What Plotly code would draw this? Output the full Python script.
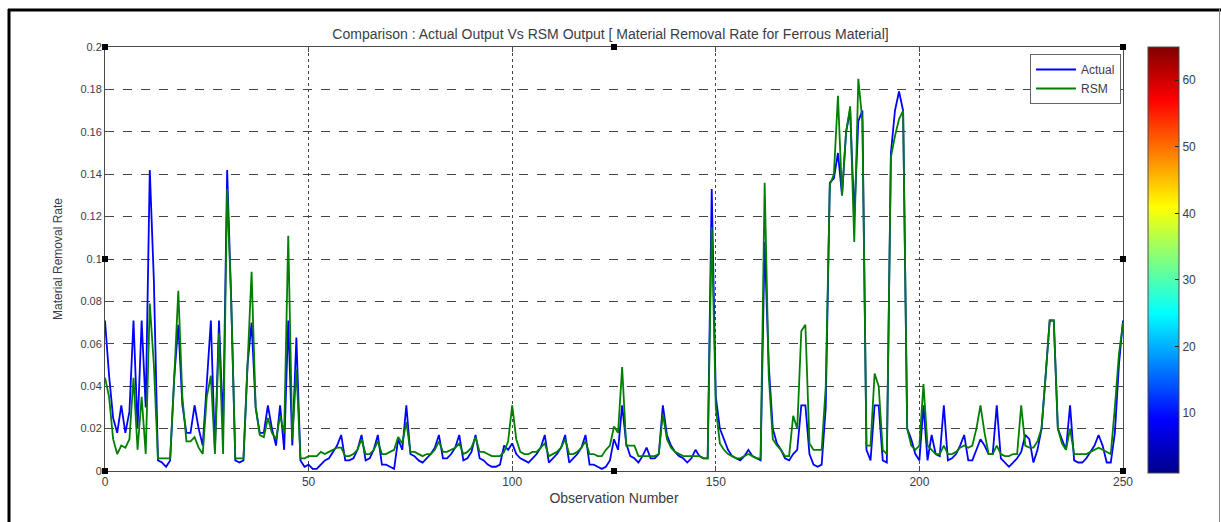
import plotly.graph_objects as go

# ---------------- data ----------------
actual_000_049 = [0.071, 0.045, 0.025, 0.018, 0.031, 0.018, 0.028, 0.071, 0.02, 0.071,
                  0.03, 0.142, 0.09, 0.005, 0.004, 0.002, 0.005, 0.044, 0.069, 0.031,
                  0.018, 0.018, 0.031, 0.02, 0.012, 0.04, 0.071, 0.01, 0.071, 0.02,
                  0.142, 0.08, 0.005, 0.004, 0.005, 0.05, 0.07, 0.03, 0.018, 0.018,
                  0.031, 0.02, 0.012, 0.031, 0.01, 0.071, 0.012, 0.063, 0.005, 0.002]
actual_050_099 = [0.003, 0.001, 0.001, 0.003, 0.005, 0.006, 0.009, 0.012, 0.017, 0.005,
                  0.005, 0.006, 0.01, 0.017, 0.005, 0.006, 0.01, 0.017, 0.003, 0.003,
                  0.002, 0.001, 0.015, 0.01, 0.031, 0.008, 0.007, 0.005, 0.004, 0.006,
                  0.008, 0.011, 0.017, 0.006, 0.006, 0.008, 0.011, 0.017, 0.005, 0.006,
                  0.009, 0.017, 0.006, 0.005, 0.003, 0.002, 0.002, 0.003, 0.012, 0.01]
actual_100_149 = [0.013, 0.008, 0.006, 0.005, 0.004, 0.006, 0.008, 0.011, 0.017, 0.004,
                  0.006, 0.008, 0.011, 0.017, 0.004, 0.006, 0.008, 0.011, 0.017, 0.003,
                  0.003, 0.002, 0.001, 0.002, 0.005, 0.015, 0.01, 0.031, 0.013, 0.007,
                  0.006, 0.004, 0.007, 0.011, 0.006, 0.006, 0.008, 0.031, 0.017, 0.012,
                  0.009, 0.007, 0.006, 0.004, 0.006, 0.01, 0.007, 0.006, 0.006, 0.133]
actual_150_199 = [0.035, 0.02, 0.015, 0.01, 0.007, 0.006, 0.005, 0.007, 0.01, 0.007,
                  0.006, 0.005, 0.108, 0.05, 0.02, 0.013, 0.01, 0.006, 0.005, 0.008,
                  0.01, 0.031, 0.031, 0.008, 0.003, 0.002, 0.003, 0.03, 0.136, 0.138,
                  0.15, 0.13, 0.16, 0.17, 0.12, 0.165, 0.17, 0.01, 0.005, 0.031,
                  0.031, 0.005, 0.004, 0.15, 0.17, 0.179, 0.17, 0.02, 0.015, 0.008]
actual_200_250 = [0.005, 0.031, 0.005, 0.017, 0.008, 0.007, 0.031, 0.005, 0.006, 0.008,
                  0.012, 0.017, 0.005, 0.005, 0.01, 0.015, 0.012, 0.008, 0.008, 0.031,
                  0.006, 0.004, 0.002, 0.004, 0.006, 0.009, 0.017, 0.015, 0.004, 0.01,
                  0.02, 0.045, 0.071, 0.071, 0.02, 0.015, 0.01, 0.031, 0.005, 0.004,
                  0.004, 0.006, 0.009, 0.012, 0.017, 0.012, 0.004, 0.004, 0.018, 0.05,
                  0.071]

rsm_000_049 = [0.044, 0.035, 0.015, 0.008, 0.012, 0.011, 0.015, 0.044, 0.01, 0.035,
               0.008, 0.079, 0.05, 0.006, 0.006, 0.006, 0.006, 0.044, 0.085, 0.035,
               0.014, 0.014, 0.016, 0.011, 0.008, 0.035, 0.045, 0.008, 0.065, 0.008,
               0.133, 0.08, 0.006, 0.006, 0.006, 0.05, 0.094, 0.03, 0.017, 0.016,
               0.025, 0.018, 0.015, 0.026, 0.018, 0.111, 0.015, 0.048, 0.006, 0.006]
rsm_050_099 = [0.007, 0.007, 0.007, 0.009, 0.008, 0.009, 0.01, 0.011, 0.011, 0.007,
               0.007, 0.008, 0.01, 0.015, 0.008, 0.008, 0.01, 0.014, 0.008, 0.008,
               0.009, 0.01, 0.016, 0.013, 0.023, 0.009, 0.009, 0.008, 0.007, 0.008,
               0.008, 0.01, 0.014, 0.009, 0.009, 0.01, 0.011, 0.013, 0.008, 0.009,
               0.011, 0.016, 0.009, 0.009, 0.008, 0.007, 0.007, 0.007, 0.009, 0.014]
rsm_100_149 = [0.031, 0.015, 0.009, 0.008, 0.008, 0.009, 0.009, 0.011, 0.013, 0.007,
               0.008, 0.009, 0.011, 0.015, 0.008, 0.008, 0.009, 0.011, 0.014, 0.008,
               0.008, 0.007, 0.007, 0.01, 0.012, 0.021, 0.018, 0.049, 0.012, 0.012,
               0.012, 0.007, 0.007, 0.007, 0.007, 0.007, 0.008, 0.027, 0.015, 0.011,
               0.009, 0.008, 0.007, 0.007, 0.007, 0.007, 0.007, 0.006, 0.006, 0.115]
rsm_150_199 = [0.03, 0.013, 0.01, 0.008, 0.007, 0.006, 0.006, 0.007, 0.008, 0.007,
               0.006, 0.006, 0.136, 0.045, 0.015, 0.012, 0.01, 0.007, 0.007, 0.026,
               0.02, 0.066, 0.069, 0.013, 0.01, 0.01, 0.01, 0.04, 0.135, 0.14,
               0.177, 0.13, 0.16, 0.172, 0.108, 0.185, 0.165, 0.012, 0.012, 0.046,
               0.04, 0.01, 0.008, 0.148, 0.158, 0.166, 0.17, 0.02, 0.012, 0.01]
rsm_200_250 = [0.012, 0.041, 0.012, 0.01, 0.008, 0.008, 0.012, 0.008, 0.008, 0.009,
               0.011, 0.012, 0.011, 0.012, 0.02, 0.031, 0.018, 0.008, 0.008, 0.012,
               0.008, 0.007, 0.007, 0.008, 0.008, 0.031, 0.012, 0.011, 0.011, 0.014,
               0.02, 0.045, 0.071, 0.071, 0.02, 0.013, 0.01, 0.02, 0.008, 0.008,
               0.008, 0.008, 0.009, 0.01, 0.011, 0.01, 0.009, 0.008, 0.03, 0.055,
               0.07]

actual = actual_000_049 + actual_050_099 + actual_100_149 + actual_150_199 + actual_200_250
rsm = rsm_000_049 + rsm_050_099 + rsm_100_149 + rsm_150_199 + rsm_200_250
observation = list(range(len(actual)))

x_ticks = [0, 50, 100, 150, 200, 250]
y_ticks = [0, 0.02, 0.04, 0.06, 0.08, 0.1, 0.12, 0.14, 0.16, 0.18, 0.2]
y_ticktext = ["0", "0.02", "0.04", "0.06", "0.08", "0.1", "0.12", "0.14", "0.16", "0.18", "0.2"]
cbar_ticks = [10, 20, 30, 40, 50, 60]

# ---------------- layout geometry ----------------
W, H = 1221, 522
L, R, T, B = 105, 1123, 47, 471
FONT = "Arial, Liberation Sans, sans-serif"
TXT = "#3c3c46"
AX = "#4a4a4a"


def px(xp):
    return (xp - L) / (R - L)


def py(yp):
    return (B - yp) / (B - T)


jet = [[0.0, "rgb(0,0,140)"], [0.125, "rgb(0,0,255)"], [0.375, "rgb(0,255,255)"],
       [0.625, "rgb(255,255,0)"], [0.875, "rgb(255,0,0)"], [1.0, "rgb(128,0,0)"]]

fig = go.Figure()
fig.add_trace(go.Scatter(x=observation, y=actual, mode="lines", name="Actual",
                         line=dict(color="rgb(0,0,255)", width=1.8)))
fig.add_trace(go.Scatter(x=observation, y=rsm, mode="lines", name="RSM",
                         line=dict(color="rgb(0,128,0)", width=1.8)))
fig.add_trace(go.Scatter(
    x=[None], y=[None], mode="markers", showlegend=False, hoverinfo="skip",
    marker=dict(color=[1], cmin=1, cmax=65, colorscale=jet, showscale=True,
                colorbar=dict(x=px(1148), xanchor="left", xpad=0,
                              y=py(260), yanchor="middle", ypad=0,
                              thickness=31, lenmode="pixels", len=426,
                              outlinecolor=AX, outlinewidth=1,
                              tickvals=cbar_ticks, ticks="inside", ticklen=4,
                              tickcolor="#222", tickwidth=1,
                              tickfont=dict(family=FONT, size=12, color=TXT)))))

shapes = []
# outer frame (partial, as in the reference image)
shapes.append(dict(type="line", xref="paper", yref="paper", x0=px(8), x1=px(1221),
                   y0=py(10), y1=py(10), line=dict(color="black", width=3)))
shapes.append(dict(type="line", xref="paper", yref="paper", x0=px(9), x1=px(9),
                   y0=py(9), y1=py(522), line=dict(color="black", width=3)))
shapes.append(dict(type="line", xref="paper", yref="paper", x0=px(1219.5), x1=px(1219.5),
                   y0=py(9), y1=py(522), line=dict(color="#888", width=1)))
# selection handles
for hx, hy in [(0, 1), (0.5, 1), (1, 1), (1, 0.5), (1, 0), (0.5, 0), (0, 0), (0, 0.5)]:
    shapes.append(dict(type="rect", xref="paper", yref="paper",
                       xsizemode="pixel", ysizemode="pixel", xanchor=hx, yanchor=hy,
                       x0=-3, x1=3, y0=-3, y1=3, fillcolor="black",
                       line=dict(color="black", width=0)))

fig.update_layout(
    width=W, height=H,
    margin=dict(l=L, r=W - R, t=T, b=H - B),
    paper_bgcolor="white", plot_bgcolor="white",
    font=dict(family=FONT, size=11, color=TXT),
    title=dict(text="Comparison : Actual Output Vs RSM Output [ Material Removal Rate for Ferrous Material]",
               x=px(614), xanchor="center", y=1 - 34 / H, yanchor="middle",
               font=dict(size=14, color=TXT)),
    showlegend=True,
    legend=dict(x=px(1121), xanchor="right", y=py(54), yanchor="top",
                bgcolor="white", bordercolor="#666", borderwidth=1,
                font=dict(size=12, color=TXT), tracegroupgap=0,
                itemwidth=40),
    shapes=shapes,
)
fig.update_xaxes(range=[0, 250], tickvals=x_ticks, showline=True, linecolor=AX,
                 linewidth=1, mirror="ticks", ticks="inside", ticklen=5,
                 tickcolor=AX, showgrid=True, gridcolor="#444", griddash="dot",
                 gridwidth=1, zeroline=False, tickfont=dict(size=12),
                 title=dict(text="Observation Number", standoff=4,
                            font=dict(size=14, color=TXT)))
fig.update_yaxes(range=[0, 0.2], tickvals=y_ticks, ticktext=y_ticktext,
                 showline=True, linecolor=AX, linewidth=1, mirror="ticks",
                 ticks="inside", ticklen=5, tickcolor=AX, showgrid=True,
                 gridcolor="#444", griddash="dash", gridwidth=1, zeroline=False,
                 tickfont=dict(size=11),
                 title=dict(text="Material Removal Rate", standoff=15,
                            font=dict(size=12, color=TXT)))

fig.write_html("out.html")
